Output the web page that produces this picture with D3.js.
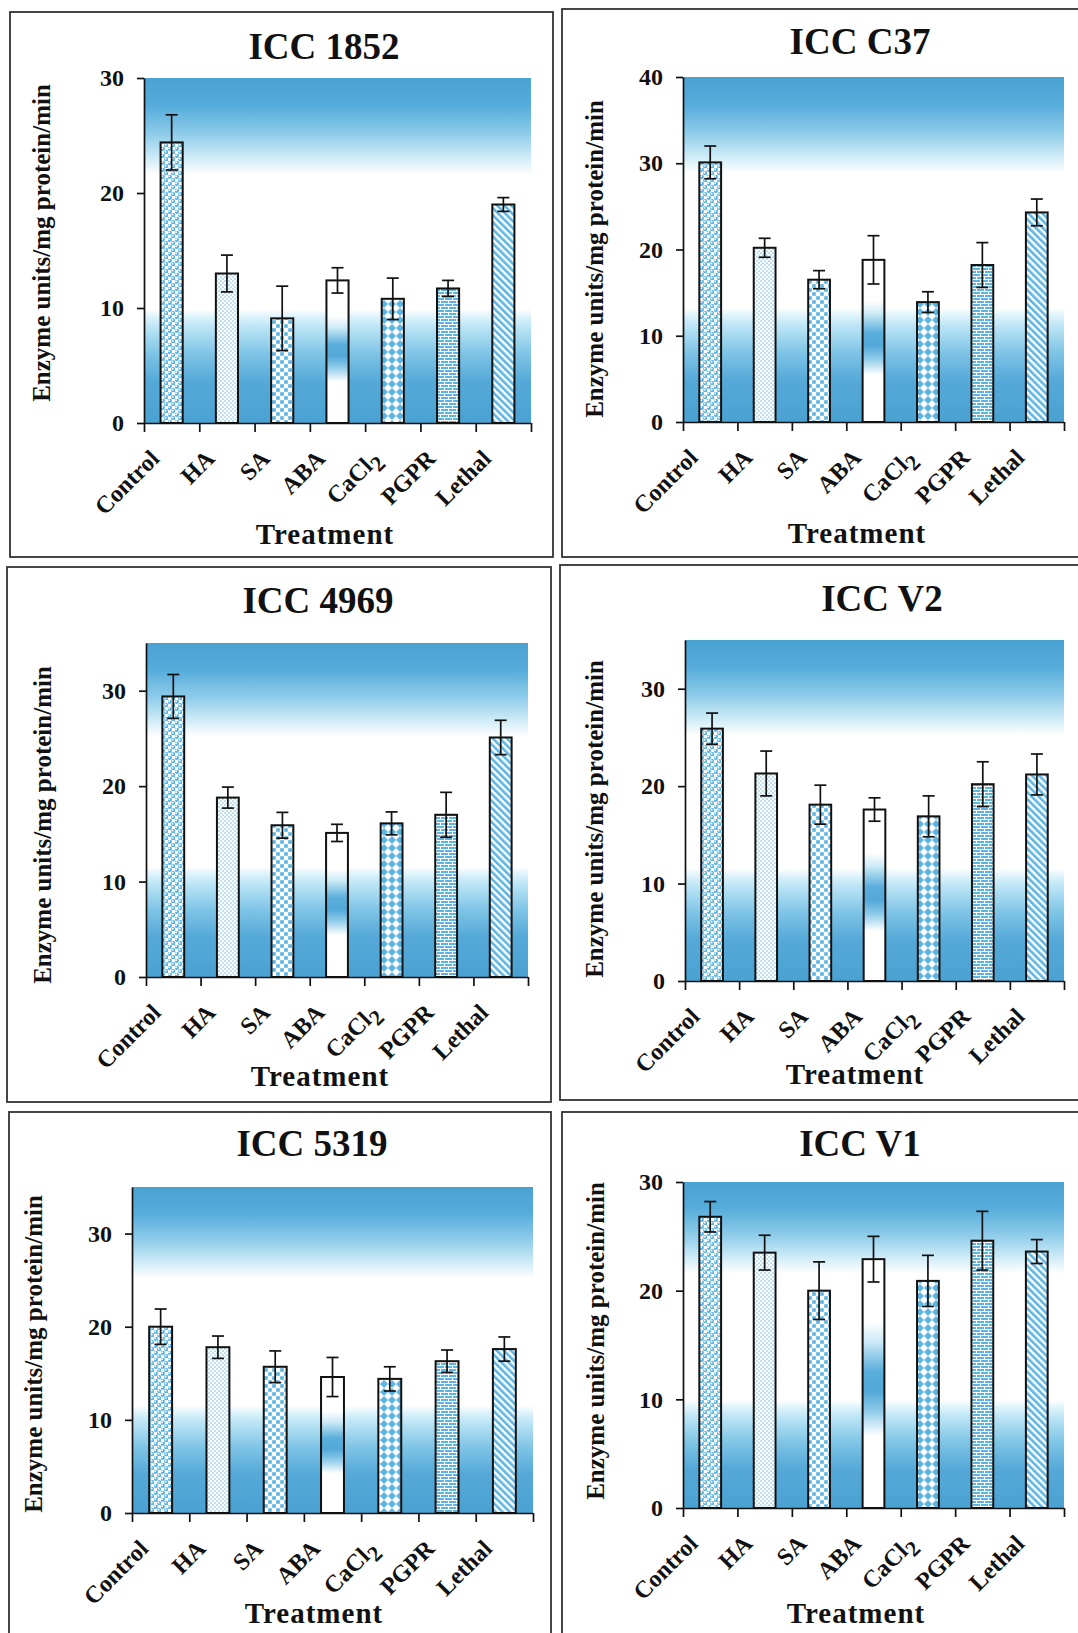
<!DOCTYPE html>
<html>
<head>
<meta charset="utf-8">
<script src="https://cdn.jsdelivr.net/npm/d3@7"></script>
<style>
  body { margin: 0; background: #fff; }
  svg { display: block; }
  text { font-family: "Liberation Serif", "Times New Roman", serif; font-weight: bold; fill: #111; }
</style>
</head>
<body>
<svg id="fig" width="1078" height="1633"></svg>
<script>
// ---- data ----
const treatments = ["Control", "HA", "SA", "ABA", "CaCl2", "PGPR", "Lethal"];
const cultivars = ["ICC 1852", "ICC C37", "ICC 4969", "ICC V2", "ICC 5319", "ICC V1"];
const yMaxes = [30, 40, 35, 35, 35, 30];
const yTickValues = [
  [0, 10, 20, 30],
  [0, 10, 20, 30, 40],
  [0, 10, 20, 30],
  [0, 10, 20, 30],
  [0, 10, 20, 30],
  [0, 10, 20, 30]
];
const meanICC1852 = [24.4, 13.0, 9.1, 12.4, 10.8, 11.7, 19.0];
const errICC1852  = [2.4, 1.6, 2.8, 1.1, 1.8, 0.7, 0.6];
const meanICCC37  = [30.1, 20.2, 16.5, 18.8, 13.9, 18.2, 24.3];
const errICCC37   = [1.9, 1.1, 1.05, 2.8, 1.2, 2.6, 1.55];
const meanICC4969 = [29.4, 18.8, 15.9, 15.1, 16.1, 17.0, 25.1];
const errICC4969  = [2.3, 1.1, 1.35, 0.9, 1.2, 2.35, 1.8];
const meanICCV2   = [25.9, 21.3, 18.1, 17.6, 16.9, 20.2, 21.2];
const errICCV2    = [1.6, 2.3, 2.0, 1.2, 2.1, 2.3, 2.1];
const meanICC5319 = [20.0, 17.8, 15.7, 14.6, 14.4, 16.3, 17.6];
const errICC5319  = [1.9, 1.2, 1.7, 2.1, 1.3, 1.2, 1.3];
const meanICCV1   = [26.8, 23.5, 20.0, 22.9, 20.9, 24.6, 23.6];
const errICCV1    = [1.4, 1.6, 2.65, 2.1, 2.35, 2.7, 1.1];

const means = [meanICC1852, meanICCC37, meanICC4969, meanICCV2, meanICC5319, meanICCV1];
const errs  = [errICC1852, errICCC37, errICC4969, errICCV2, errICC5319, errICCV1];

// ---- layout (panel frame, plot area, title / label anchors) ----
const layout = [
  {box: [10, 12, 553, 557],     plot: [144, 78, 531, 423],     title: [324, 59],   ylab: [41, 243],  xlab: [325, 544]},
  {box: [562, 9, 1095, 557],    plot: [683, 77, 1064, 422],    title: [860, 54],   ylab: [594, 259], xlab: [857, 543]},
  {box: [7, 567, 551, 1102],    plot: [146, 643, 528, 977],    title: [318, 613],  ylab: [42, 825],  xlab: [320, 1086]},
  {box: [560, 565, 1095, 1100], plot: [685, 640, 1064, 981],   title: [882, 611],  ylab: [594, 819], xlab: [855, 1084]},
  {box: [9, 1112, 551, 1645],   plot: [132, 1187, 533, 1513],  title: [312, 1156], ylab: [33, 1354], xlab: [314, 1623]},
  {box: [562, 1112, 1095, 1645],plot: [683, 1182, 1064, 1508], title: [860, 1156], ylab: [595, 1341], xlab: [856, 1623]}
];

const blue = "#5db5e3";
const svg = d3.select("#fig");
const defs = svg.append("defs");

// plot background: blue - white - blue band gradient
const bg = defs.append("linearGradient").attr("id", "bg")
  .attr("x1", 0).attr("y1", 0).attr("x2", 0).attr("y2", 1);
[[0, "#4aa2d3"], [0.08, "#56acdb"], [0.16, "#8ccbe9"], [0.23, "#cdebf7"], [0.28, "#ffffff"],
 [0.67, "#ffffff"], [0.69, "#e0f4fb"], [0.72, "#bde6f6"], [0.8, "#7ec4e6"], [0.88, "#55a9d8"], [1, "#4aa2d2"]]
  .forEach(([o, c]) => bg.append("stop").attr("offset", o).attr("stop-color", c));

// ABA bar: white with blue band in the middle
const aba = defs.append("linearGradient").attr("id", "aba")
  .attr("x1", 0).attr("y1", 0).attr("x2", 0).attr("y2", 1);
[[0, "#ffffff"], [0.25, "#ffffff"], [0.33, "#cdebf7"], [0.45, "#5aaedb"], [0.53, "#52a8d8"],
 [0.61, "#8fcbe9"], [0.71, "#ffffff"], [1, "#ffffff"]]
  .forEach(([o, c]) => aba.append("stop").attr("offset", o).attr("stop-color", c));

function pattern(id, w, h, transform) {
  const p = defs.append("pattern").attr("id", id)
    .attr("patternUnits", "userSpaceOnUse").attr("width", w).attr("height", h);
  if (transform) p.attr("patternTransform", transform);
  return p;
}

// Control: shaded spheres
let p = pattern("pControl", 7, 7);
p.append("rect").attr("width", 7).attr("height", 7).attr("fill", "#fff");
[[1.75, 1.75], [5.25, 5.25]].forEach(([cx, cy]) => {
  p.append("circle").attr("cx", cx).attr("cy", cy).attr("r", 2.2).attr("fill", blue);
  p.append("circle").attr("cx", cx - 0.6).attr("cy", cy - 0.6).attr("r", 0.9).attr("fill", "#fff");
});
// HA: fine dots
p = pattern("pHA", 4, 4);
p.append("rect").attr("width", 4).attr("height", 4).attr("fill", "#fff");
p.append("circle").attr("cx", 1).attr("cy", 1).attr("r", 0.85).attr("fill", "#7cc6ea");
p.append("circle").attr("cx", 3).attr("cy", 3).attr("r", 0.85).attr("fill", "#7cc6ea");
// SA: checker squares
p = pattern("pSA", 8, 8);
p.append("rect").attr("width", 8).attr("height", 8).attr("fill", "#fff");
p.append("rect").attr("x", 0.2).attr("y", 0.2).attr("width", 3.6).attr("height", 3.6).attr("fill", blue);
p.append("rect").attr("x", 4.2).attr("y", 4.2).attr("width", 3.6).attr("height", 3.6).attr("fill", blue);
// CaCl2: diamonds
p = pattern("pCaCl2", 8, 8);
p.append("rect").attr("width", 8).attr("height", 8).attr("fill", blue);
p.append("path").attr("d", "M4,0L8,4L4,8L0,4Z").attr("fill", "#fff");
// PGPR: horizontal bricks
p = pattern("pPGPR", 8, 6);
p.append("rect").attr("width", 8).attr("height", 6).attr("fill", blue);
p.append("rect").attr("x", 0).attr("y", 0).attr("width", 8).attr("height", 1).attr("fill", "#fff");
p.append("rect").attr("x", 0).attr("y", 3).attr("width", 8).attr("height", 1).attr("fill", "#fff");
p.append("rect").attr("x", 0).attr("y", 0).attr("width", 1).attr("height", 3).attr("fill", "#fff");
p.append("rect").attr("x", 4).attr("y", 3).attr("width", 1).attr("height", 3).attr("fill", "#fff");
// Lethal: wide downward diagonal
p = pattern("pLethal", 5, 5, "rotate(-45)");
p.append("rect").attr("width", 5).attr("height", 5).attr("fill", "#fff");
p.append("rect").attr("width", 2.6).attr("height", 5).attr("fill", blue);

const fills = ["url(#pControl)", "url(#pHA)", "url(#pSA)", "url(#aba)", "url(#pCaCl2)", "url(#pPGPR)", "url(#pLethal)"];

cultivars.forEach((name, i) => {
  const L = layout[i];
  const g = svg.append("g");
  const [px0, py0, px1, py1] = L.plot;

  g.append("rect")
    .attr("x", L.box[0]).attr("y", L.box[1])
    .attr("width", L.box[2] - L.box[0]).attr("height", L.box[3] - L.box[1])
    .attr("fill", "none").attr("stroke", "#333").attr("stroke-width", 1.8);

  const x = d3.scaleBand().domain(treatments).range([px0, px1])
    .paddingInner(0.6).paddingOuter(0.3);
  const y = d3.scaleLinear().domain([0, yMaxes[i]]).range([py1, py0]);

  g.append("rect")
    .attr("x", px0).attr("y", y(yMaxes[i]))
    .attr("width", px1 - px0).attr("height", y(0) - y(yMaxes[i]))
    .attr("fill", "url(#bg)");

  const rows = treatments.map((t, k) => ({t, k, v: means[i][k], e: errs[i][k]}));

  g.selectAll("rect.bar").data(rows).join("rect")
    .attr("class", "bar")
    .attr("x", d => x(d.t)).attr("y", d => y(d.v))
    .attr("width", x.bandwidth()).attr("height", d => y(0) - y(d.v))
    .attr("fill", d => fills[d.k])
    .attr("stroke", "#111").attr("stroke-width", 2);

  const eb = g.selectAll("g.err").data(rows).join("g").attr("class", "err")
    .attr("stroke", "#111").attr("stroke-width", 1.7);
  const cx = d => x(d.t) + x.bandwidth() / 2;
  eb.append("line").attr("x1", cx).attr("x2", cx)
    .attr("y1", d => y(d.v + d.e)).attr("y2", d => y(d.v - d.e));
  eb.append("line").attr("x1", d => cx(d) - 6).attr("x2", d => cx(d) + 6)
    .attr("y1", d => y(d.v + d.e)).attr("y2", d => y(d.v + d.e));
  eb.append("line").attr("x1", d => cx(d) - 6).attr("x2", d => cx(d) + 6)
    .attr("y1", d => y(d.v - d.e)).attr("y2", d => y(d.v - d.e));

  // y axis
  const ya = g.append("g").attr("transform", `translate(${px0},0)`)
    .call(d3.axisLeft(y).tickValues(yTickValues[i]).tickFormat(d3.format("d"))
      .tickSize(7).tickSizeOuter(0).tickPadding(13));
  ya.attr("font-family", null).attr("font-size", 24);
  ya.selectAll("path, line").attr("stroke", "#111").attr("stroke-width", 1.7);

  // x axis: ticks at the category boundaries
  const xi = d3.scaleLinear().domain([0, treatments.length]).range([px0, px1]);
  const xa = g.append("g").attr("transform", `translate(0,${y(0)})`)
    .call(d3.axisBottom(xi).tickValues(d3.range(treatments.length + 1))
      .tickFormat("").tickSize(9).tickSizeOuter(0));
  xa.selectAll("path, line").attr("stroke", "#111").attr("stroke-width", 1.7);

  // rotated category labels
  rows.forEach(d => {
    const t = g.append("text")
      .attr("transform", `translate(${cx(d) - 11},${y(0) + 37}) rotate(-45)`)
      .attr("text-anchor", "end").attr("font-size", 24);
    if (d.t === "CaCl2") {
      t.append("tspan").text("CaCl");
      t.append("tspan").attr("dy", 7).attr("font-size", 22).text("2");
    } else {
      t.text(d.t);
    }
  });

  g.append("text").attr("x", L.title[0]).attr("y", L.title[1])
    .attr("text-anchor", "middle").attr("font-size", 37).text(name);

  g.append("text")
    .attr("transform", `translate(${L.ylab[0]},${L.ylab[1]}) rotate(-90)`)
    .attr("dy", "0.35em").attr("text-anchor", "middle").attr("font-size", 25)
    .text("Enzyme units/mg protein/min");

  g.append("text").attr("x", L.xlab[0]).attr("y", L.xlab[1])
    .attr("text-anchor", "middle").attr("font-size", 29).attr("letter-spacing", 1)
    .text("Treatment");
});
</script>
</body>
</html>
